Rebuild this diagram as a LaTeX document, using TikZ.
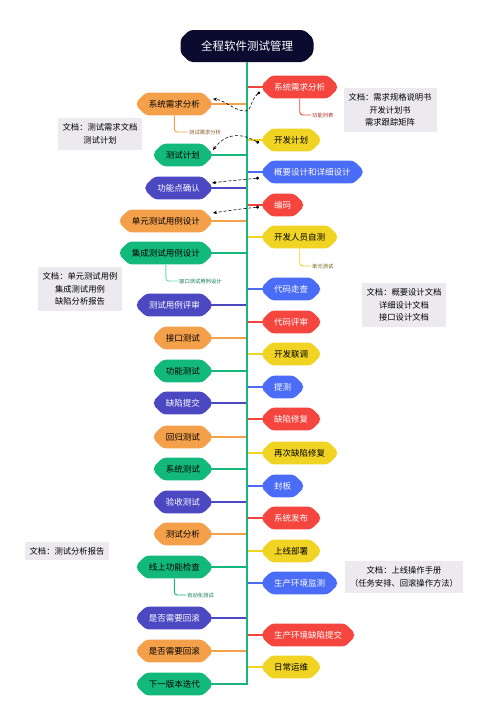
\documentclass[tikz,border=0pt]{standalone}
\usepackage{fontspec}
\newfontfamily\cjk{Noto Sans CJK SC}
\usetikzlibrary{shapes.misc,arrows.meta}

\definecolor{corange}{HTML}{F4A04B}
\definecolor{cgreen}{HTML}{12B97A}
\definecolor{cpurple}{HTML}{4B48C2}
\definecolor{cred}{HTML}{F4463E}
\definecolor{cyellow}{HTML}{F0D323}
\definecolor{cblue}{HTML}{4A6CF6}
\definecolor{ctrunk}{HTML}{1DB47C}
\definecolor{ctitle}{HTML}{0A0B2F}
\definecolor{cdoc}{HTML}{ECEAEE}

\tikzset{
  mbox/.style={chamfered rectangle, chamfered rectangle xsep=3.5pt,
    chamfered rectangle ysep=5.5pt, rounded corners=3.5pt, minimum height=20pt,
    inner xsep=8.5pt, inner ysep=2pt, font=\cjk\fontsize{8.5}{10}\selectfont},
  titlebox/.style={mbox, fill=ctitle, text=white, minimum height=32pt,
    minimum width=133pt, font=\cjk\fontsize{11.5}{13}\selectfont},
  branch/.style={line width=1.2pt},
  trunkline/.style={ctrunk, line width=1.4pt},
  docnote/.style={fill=cdoc, align=center, inner xsep=5pt, inner ysep=5.5pt,
    font=\cjk\fontsize{8.3}{12.5}\selectfont},
  subnote/.style={anchor=west, inner sep=1pt, font=\cjk\fontsize{5.3}{6}\selectfont},
  subline/.style={line width=0.9pt, rounded corners=3pt},
  flow/.style={densely dashed, line width=0.6pt, black,
    {Circle[length=3pt]}-{Stealth[length=4pt,width=3.5pt]}}
}

\begin{document}
\begin{tikzpicture}[x=1pt, y=-1pt]
	\useasboundingbox[fill=white] (0,0) rectangle (491,720);

	\node[titlebox] (title) at (247,46) {全程软件测试管理};

	% test side
	\foreach \y/\id/\lbl/\col/\tcol in {104/a/系统需求分析/corange/black, 155/b/测试计划/cgreen/black,
		188/c/功能点确认/cpurple/white, 221/d/单元测试用例设计/corange/black, 253/e/集成测试用例设计/cgreen/black,
		305/f/测试用例评审/cpurple/white, 338/g/接口测试/corange/black, 371/h/功能测试/cgreen/black,
		403/i/缺陷提交/cpurple/white, 437/j/回归测试/corange/black, 469/k/系统测试/cgreen/black,
		502/l/验收测试/cpurple/white, 534/m/测试分析/corange/black, 567/n/线上功能检查/cgreen/black,
		618/o/是否需要回滚/cpurple/white, 651/p/是否需要回滚/corange/black, 684/q/下一版本迭代/cgreen/black}
	{
		\node[mbox, fill=\col, text=\tcol, anchor=east] (L\id) at (212,\y) {\lbl};
		\draw[branch, \col] (L\id.east) -- (L\id.east -| title.south);
	}

	% development side
	\foreach \y/\id/\lbl/\col/\tcol in {87/a/系统需求分析/cred/white, 140/b/开发计划/cyellow/black,
		172/c/概要设计和详细设计/cblue/white, 205/d/编码/cred/white, 237/e/开发人员自测/cyellow/black,
		289/f/代码走查/cblue/white, 322/g/代码评审/cred/white, 354/h/开发联调/cyellow/black,
		387/i/提测/cblue/white, 419/j/缺陷修复/cred/white, 453/k/再次缺陷修复/cyellow/black,
		486/l/封板/cblue/white, 518/m/系统发布/cred/white, 551/n/上线部署/cyellow/black,
		583/o/生产环境监测/cblue/white, 635/p/生产环境缺陷提交/cred/white, 667/q/日常运维/cyellow/black}
	{
		\node[mbox, fill=\col, text=\tcol, anchor=west] (R\id) at (262,\y) {\lbl};
		\draw[branch, \col] (R\id.west) -- (R\id.west -| title.south);
	}

	\draw[trunkline] (title.south) -- (title.south |- Lq.east) -- (Lq.east);

	% small notes under nodes
	\node[subnote, text=cred!70!black] (s1) at (311,115) {功能列表};
	\node[subnote, text=corange!55!black] (s2) at (188,132) {测试需求分析};
	\node[subnote, text=cyellow!45!black] (s3) at (311,266) {单元测试};
	\node[subnote, text=cgreen!65!black] (s4) at (178,281) {接口测试用例设计};
	\node[subnote, text=cgreen!65!black] (s5) at (186,595) {自动化测试};
	\draw[subline, cred] (Ra.south) |- (s1.west);
	\draw[subline, corange] (La.south) |- (s2.west);
	\draw[subline, cyellow] (Re.south) |- (s3.west);
	\draw[subline, cgreen!60] (Le.south) |- (s4.west);
	\draw[subline, cgreen] (Ln.south) |- (s5.west);

	% hand-over arrows
	\draw[flow] ([shift={(-2,5)}]Ra.west) .. controls (250,100) and (252,112) .. (244,111)
		.. controls (234,110) and (224,100) .. ([shift={(1,-5)}]La.east);
	\draw[flow] ([shift={(-3,3)}]Rb.west) .. controls (245,135) and (228,130) .. ([shift={(1,-5)}]Lb.east);
	\draw[flow] ([shift={(-3,6)}]Rc.west) .. controls (240,180) and (225,181) .. ([shift={(0,-5)}]Lc.east);
	\draw[flow] ([shift={(-3,2)}]Rd.west) .. controls (240,209) and (225,211) .. ([shift={(1,-8)}]Ld.east);

	% documents
	\node[docnote] (d1) at (390,110) {文档：需求规格说明书\\开发计划书\\需求跟踪矩阵};
	\node[docnote] (d2) at (100,134) {文档：测试需求文档\\测试计划};
	\node[docnote] (d3) at (80,289) {文档：单元测试用例\\集成测试用例\\缺陷分析报告};
	\node[docnote] (d4) at (404,305) {文档：概要设计文档\\详细设计文档\\接口设计文档};
	\node[docnote] (d5) at (67,551) {文档：测试分析报告};
	\node[docnote] (d6) at (404,577) {文档：上线操作手册\\（任务安排、回滚操作方法）};
\end{tikzpicture}
\end{document}
